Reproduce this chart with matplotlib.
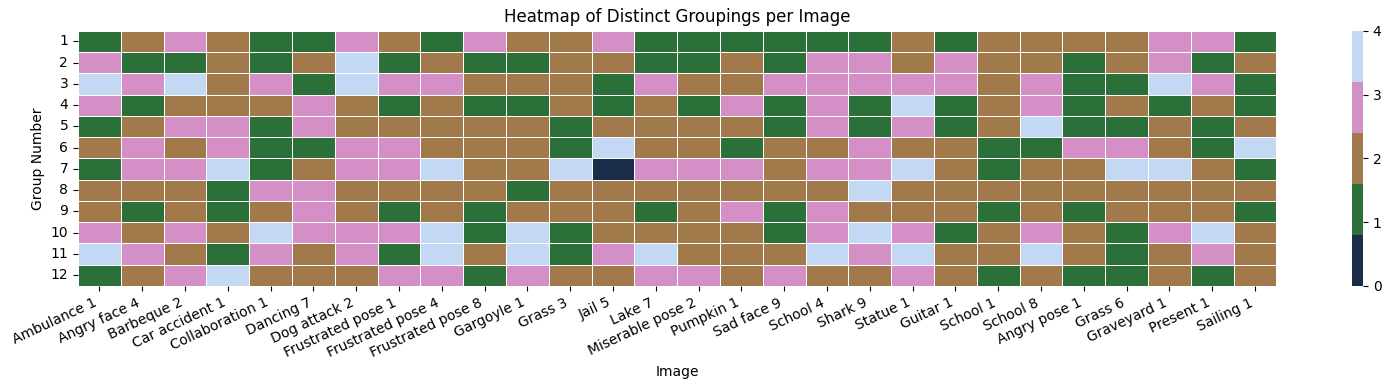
import matplotlib
matplotlib.use("Agg")
import matplotlib.pyplot as plt
import seaborn as sns
import numpy as np
import pandas as pd

images = ["Ambulance 1", "Angry face 4", "Barbeque 2", "Car accident 1", "Collaboration 1",
          "Dancing 7", "Dog attack 2", "Frustrated pose 1", "Frustrated pose 4",
          "Frustrated pose 8", "Gargoyle 1", "Grass 3", "Jail 5", "Lake 7",
          "Miserable pose 2", "Pumpkin 1", "Sad face 9", "School 4", "Shark 9", "Statue 1",
          "Guitar 1", "School 1", "School 8", "Angry pose 1", "Grass 6", "Graveyard 1",
          "Present 1", "Sailing 1"]

groups = list(range(1, 13))

# one row per group number, one value per image
g1 = [1, 2, 3, 2, 1, 1, 3, 2, 1, 3, 2, 2, 3, 1, 1, 1, 1, 1, 1, 2, 1, 2, 2, 2, 2, 3, 3, 1]
g2 = [3, 1, 1, 2, 1, 2, 4, 1, 2, 1, 1, 2, 2, 1, 1, 2, 1, 3, 3, 2, 3, 2, 2, 1, 2, 3, 1, 2]
g3 = [4, 3, 4, 2, 3, 1, 4, 3, 3, 2, 2, 2, 1, 3, 2, 2, 3, 3, 3, 3, 3, 2, 3, 1, 1, 4, 3, 1]
g4 = [3, 1, 2, 2, 2, 3, 2, 1, 2, 1, 1, 2, 1, 2, 1, 3, 1, 3, 1, 4, 1, 2, 3, 1, 2, 1, 2, 1]
g5 = [1, 2, 3, 3, 1, 3, 2, 2, 2, 2, 2, 1, 2, 2, 2, 2, 1, 3, 1, 3, 1, 2, 4, 1, 1, 2, 1, 2]
g6 = [2, 3, 2, 3, 1, 1, 3, 3, 2, 2, 2, 1, 4, 2, 2, 1, 2, 2, 3, 2, 2, 1, 1, 3, 3, 2, 1, 4]
g7 = [1, 3, 3, 4, 1, 2, 3, 3, 4, 2, 2, 4, 0, 3, 3, 3, 2, 3, 3, 4, 2, 1, 2, 2, 4, 4, 2, 1]
g8 = [2, 2, 2, 1, 3, 3, 2, 2, 2, 2, 1, 2, 2, 2, 2, 2, 2, 2, 4, 2, 2, 2, 2, 2, 2, 2, 2, 2]
g9 = [2, 1, 2, 1, 2, 3, 2, 1, 2, 1, 2, 2, 2, 1, 2, 3, 1, 3, 2, 2, 2, 1, 2, 1, 2, 2, 2, 1]
g10 = [3, 2, 3, 2, 4, 3, 3, 3, 4, 1, 4, 1, 2, 2, 2, 2, 1, 3, 4, 3, 1, 2, 3, 2, 1, 3, 4, 2]
g11 = [4, 3, 2, 1, 3, 2, 3, 1, 4, 2, 4, 1, 3, 4, 2, 2, 2, 4, 3, 4, 2, 2, 4, 2, 1, 2, 3, 2]
g12 = [1, 2, 3, 4, 2, 2, 2, 3, 3, 1, 3, 2, 2, 3, 3, 2, 3, 2, 2, 3, 2, 1, 2, 1, 1, 2, 1, 2]

data = pd.DataFrame([g1, g2, g3, g4, g5, g6, g7, g8, g9, g10, g11, g12],
                    index=groups, columns=images)

colors = sns.color_palette("cubehelix", 5)

fig = plt.figure(figsize=(13.92, 3.9), dpi=100)
ax = fig.add_axes([0.056, 0.267, 0.861, 0.654])
cax = fig.add_axes([0.9713, 0.267, 0.0079, 0.654])
sns.heatmap(data, cmap=colors, vmin=0, vmax=4, linewidths=0.5, linecolor="white",
            ax=ax, cbar_ax=cax, cbar_kws={"ticks": [0, 1, 2, 3, 4]})
ax.set_title("Heatmap of Distinct Groupings per Image")
ax.set_xlabel("Image")
ax.set_ylabel("Group Number")
plt.setp(ax.get_xticklabels(), rotation=25, ha="right")
plt.setp(ax.get_yticklabels(), rotation=0)
plt.savefig("out.png")
